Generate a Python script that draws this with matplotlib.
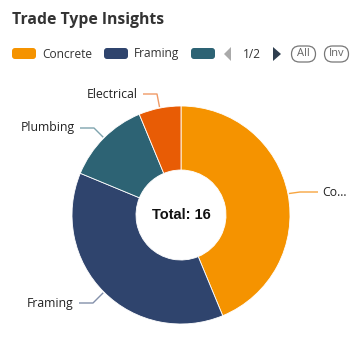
import matplotlib
matplotlib.use("Agg")
import matplotlib.pyplot as plt
from matplotlib.patches import FancyBboxPatch, Polygon
import numpy as np

title = "Trade Type Insights"
categories = ["Concrete", "Framing", "Plumbing", "Electrical"]
values = [7, 6, 2, 1]
colors = ["#F59300", "#2F446D", "#2D6374", "#E85C05"]
line_colors = ["#F7A540", "#8390AA", "#7FA4AE", "#F09A66"]
display_labels = ["Co...", "Framing", "Plumbing", "Electrical"]
legend_shown = 3
page_text = "1/2"

W, H = 358, 354
fig = plt.figure(figsize=(W / 100, H / 100), dpi=100)
ax = fig.add_axes([0, 0, 1, 1])
ax.set_xlim(0, W)
ax.set_ylim(H, 0)
ax.axis("off")

font = "Open Sans"

# title
ax.text(12, 20, title, fontsize=11.3, fontweight="bold", color="#333333",
        va="center", ha="left", family=font)

# legend
swatch_x = [12, 104, 191]
for i in range(legend_shown):
    ax.add_patch(FancyBboxPatch((swatch_x[i], 48), 24, 11, boxstyle="round,pad=0,rounding_size=3",
                                 facecolor=colors[i], edgecolor="none"))
    if i < legend_shown - 1:
        ax.text(swatch_x[i] + 30, 54, categories[i], fontsize=8.6, color="#333333",
                va="center", ha="left", family=font)
# navigation
ax.add_patch(Polygon([[231, 47], [231, 61], [224, 54]], closed=True, facecolor="#AAAAAA", edgecolor="none"))
ax.text(252, 54, page_text, fontsize=8.6, color="#333333", va="center", ha="center", family=font)
ax.add_patch(Polygon([[273, 47], [273, 61], [281, 54]], closed=True, facecolor="#2F3E4F", edgecolor="none"))
for bx, txt in [(303.5, "All"), (336.5, "Inv")]:
    ax.add_patch(FancyBboxPatch((bx - 12, 46), 24, 16, boxstyle="round,pad=0,rounding_size=8",
                                 facecolor="white", edgecolor="#777777", linewidth=0.9))
    ax.text(bx, 54, txt, fontsize=8.0, color="#666666", va="center", ha="center", family=font)

# donut
cx, cy, R = 181, 215, 109
pax = fig.add_axes([0, 0, 1, 1])
pax.patch.set_alpha(0)
wedges, _ = pax.pie(values, colors=colors, startangle=90, counterclock=False,
                    center=(cx, H - cy), radius=R,
                    wedgeprops=dict(width=R - 45, edgecolor="white", linewidth=0.6))
pax.set_xlim(0, W)
pax.set_ylim(0, H)
pax.set_aspect("equal")
pax.axis("off")
pax.text(cx, H - cy, "Total: 16", fontsize=10.5, fontweight="bold", color="#111111",
         ha="center", va="center", family="Liberation Sans")

# leader lines and labels (in top-down pixel coords on ax)
total = sum(values)
cum = 0
label_specs = {
    0: dict(bend=(300, 192), end=(318, 192), text=(322, 192), ha="left"),
    1: dict(bend=(93, 303), end=(79, 303), text=(74, 303), ha="right"),
    2: dict(bend=(94, 128), end=(80, 128), text=(75, 128), ha="right"),
    3: dict(bend=(157, 94), end=(143, 94), text=(138, 94), ha="right"),
}
for i, v in enumerate(values):
    mid = cum + v / 2
    cum += v
    ang = np.deg2rad(90 - mid / total * 360)
    px = cx + (R + 1) * np.cos(ang)
    py = cy - (R + 1) * np.sin(ang)
    s = label_specs[i]
    ax.plot([px, s["bend"][0], s["end"][0]], [py, s["bend"][1], s["end"][1]],
            color=line_colors[i], linewidth=1.0, solid_capstyle="butt")
    ax.text(s["text"][0], s["text"][1], display_labels[i], fontsize=8.8, color="#222222",
            ha=s["ha"], va="center", family=font)

fig.savefig("out.png", dpi=100)
